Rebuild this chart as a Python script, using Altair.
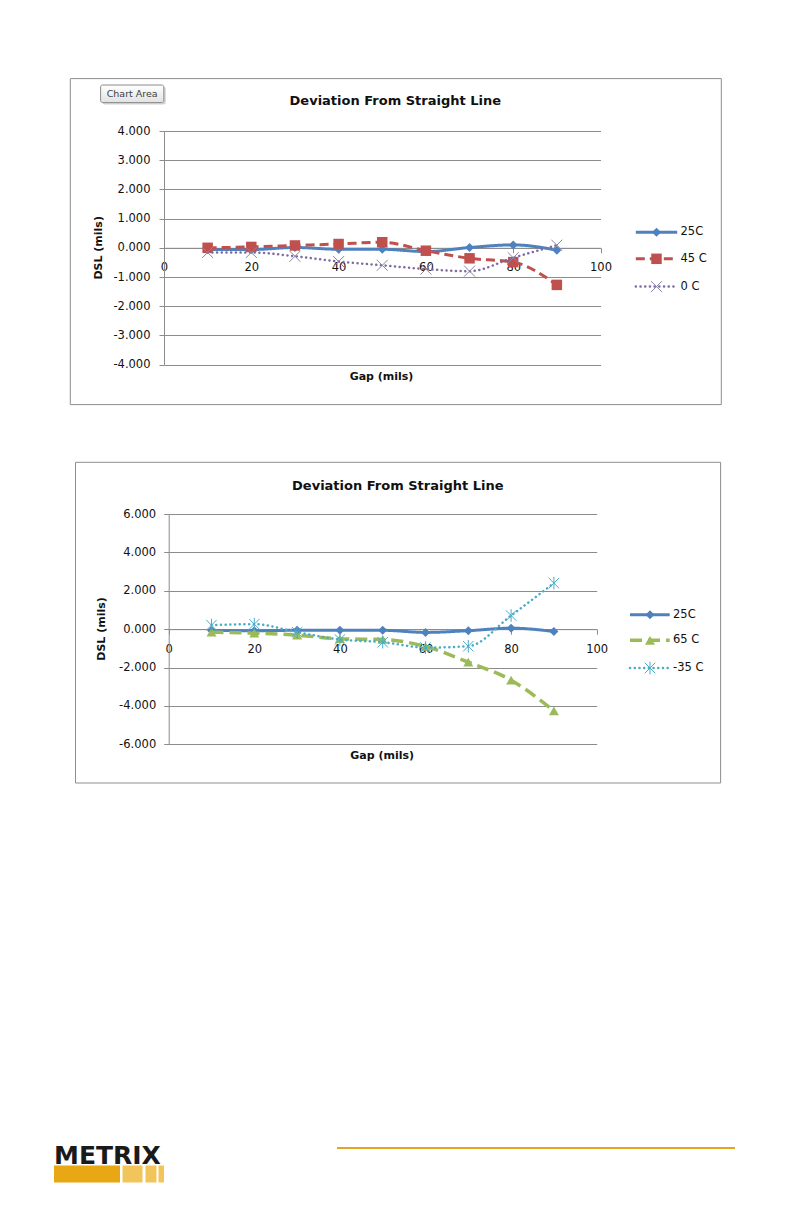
import altair as alt
import pandas as pd

# ---------------- data ----------------
gap = [10, 20, 30, 40, 50, 60, 70, 80, 90]

# top chart
top_25c = [-0.06, -0.06, 0.01, -0.05, -0.05, -0.13, 0.01, 0.10, -0.08]
top_45c = [0.00, 0.03, 0.08, 0.13, 0.19, -0.10, -0.36, -0.49, -1.27]
top_0c = [-0.16, -0.16, -0.29, -0.47, -0.60, -0.73, -0.80, -0.34, 0.09]

# bottom chart
bot_25c = [-0.07, -0.08, -0.06, -0.06, -0.06, -0.17, -0.08, 0.05, -0.12]
bot_65c = [-0.16, -0.21, -0.31, -0.50, -0.54, -0.90, -1.72, -2.66, -4.26]
bot_m35c = [0.21, 0.26, -0.16, -0.54, -0.68, -0.96, -0.89, 0.71, 2.40]

x_ticks = [0, 20, 40, 60, 80, 100]
top_y_ticks = [-4, -3, -2, -1, 0, 1, 2, 3, 4]
bot_y_ticks = [-6, -4, -2, 0, 2, 4, 6]

chart_title = "Deviation From Straight Line"
x_title = "Gap (mils)"
y_title = "DSL (mils)"

FONT = "DejaVu Sans"
GRID = "#8c8c8c"
TEXT = "#111111"

one = pd.DataFrame({"k": [0]})

X_SHAPE = "M-1,-1L1,1M-1,1L1,-1"
STAR_SHAPE = "M-1,-1L1,1M-1,1L1,-1M0,-1.2L0,1.2"

STYLES = {
    "25C": dict(color="#4F81BD", width=3, dash=[1, 0], cap="butt", shape="diamond", size=81,
                filled=True, mcolor="#4F81BD", mwidth=1),
    "45 C": dict(color="#C0504D", width=3, dash=[9, 5], cap="butt", shape="square", size=110,
                 filled=True, mcolor="#C0504D", mwidth=1),
    "0 C": dict(color="#7F6C9E", width=2.5, dash=[0.1, 4.6], cap="round", shape=X_SHAPE, size=120,
                filled=False, mcolor="#8A84A6", mwidth=1),
    "65 C": dict(color="#9BBB59", width=3.5, dash=[12, 6], cap="butt", shape="triangle-up", size=100,
                 filled=True, mcolor="#9BBB59", mwidth=1),
    "-35 C": dict(color="#4BACC6", width=2.5, dash=[0.1, 4.6], cap="round", shape=STAR_SHAPE, size=110,
                  filled=False, mcolor="#4BACC6", mwidth=1),
}


def y_label_expr():
    return "(datum.value < 0 ? '-' : '') + format(abs(datum.value), '.3f')"


def build_chart(series, ydom, yticks, W, H, geo, extra=None):
    X = alt.X("gap:Q",
              scale=alt.Scale(domain=[0, 100], nice=False, zero=False, range=list(geo["xrange"])),
              axis=alt.Axis(values=x_ticks, format="d", offset=-(H / 2), grid=False,
                            tickSize=5, tickColor=GRID, domainColor=GRID,
                            labelFlush=False, labelOverlap=False, labelPadding=9,
                            labelFont=FONT, labelFontSize=11.5, labelColor=TEXT, title=None))
    Y = alt.Y("dsl:Q",
              scale=alt.Scale(domain=ydom, nice=False, zero=False),
              axis=alt.Axis(values=yticks, labelExpr=y_label_expr(), grid=True, offset=geo["yoff"],
                            gridColor=GRID, gridWidth=1, tickSize=5, tickColor=GRID,
                            domainColor=GRID, labelPadding=geo["lpad"], labelFont=FONT,
                            labelFontSize=11.5, labelColor=TEXT, title=None))

    layers = []
    # chart area border
    b = geo["border"]
    layers.append(alt.Chart(one).mark_rect(fill="#ffffff", fillOpacity=0, stroke="#8e8e8e",
                                           strokeWidth=1).encode(
        x=alt.value(b[0]), x2=alt.value(b[1]), y=alt.value(b[2]), y2=alt.value(b[3])))
    # title
    layers.append(alt.Chart(one).mark_text(text=chart_title, font=FONT, fontSize=13, fontWeight="bold",
                                           align="center", baseline="middle", color=TEXT).encode(
        x=alt.value(geo["title"][0]), y=alt.value(geo["title"][1])))
    # axis titles
    layers.append(alt.Chart(one).mark_text(text=x_title, font=FONT, fontSize=11, fontWeight="bold",
                                           align="center", baseline="middle", color=TEXT).encode(
        x=alt.value(geo["xt"][0]), y=alt.value(geo["xt"][1])))
    layers.append(alt.Chart(one).mark_text(text=y_title, font=FONT, fontSize=11, fontWeight="bold",
                                           align="center", baseline="middle", angle=270,
                                           color=TEXT).encode(
        x=alt.value(geo["yt"][0]), y=alt.value(geo["yt"][1])))

    # data series
    for name, vals in series:
        st = STYLES[name]
        df = pd.DataFrame({"gap": gap, "dsl": vals, "series": name})
        base = alt.Chart(df)
        layers.append(base.mark_line(color=st["color"], strokeWidth=st["width"], strokeDash=st["dash"],
                                     strokeCap=st["cap"], interpolate="monotone").encode(x=X, y=Y))
        layers.append(base.mark_point(shape=st["shape"], size=st["size"], filled=st["filled"],
                                      color=st["mcolor"], strokeWidth=st["mwidth"],
                                      opacity=1).encode(x=X, y=Y))

    # legend
    lx1, lx2, lmx, ltx = geo["leg_x"]
    for (name, _), ly in zip(series, geo["leg_y"]):
        st = STYLES[name]
        layers.append(alt.Chart(one).mark_rule(color=st["color"], strokeWidth=st["width"],
                                               strokeDash=st["dash"], strokeCap=st["cap"]).encode(
            x=alt.value(lx1), x2=alt.value(lx2), y=alt.value(ly)))
        layers.append(alt.Chart(one).mark_point(shape=st["shape"], size=st["size"], filled=st["filled"],
                                                color=st["mcolor"], strokeWidth=st["mwidth"],
                                                opacity=1).encode(x=alt.value(lmx), y=alt.value(ly)))
        layers.append(alt.Chart(one).mark_text(text=name, font=FONT, fontSize=11.5, align="left",
                                               baseline="middle", color=TEXT).encode(
            x=alt.value(ltx), y=alt.value(ly)))

    if extra:
        layers.extend(extra)

    return alt.layer(*layers).properties(width=W, height=H)


# ---- top chart extras: "Chart Area" tooltip and a left anchor ----
top_extra = [
    alt.Chart(one).mark_rect(fill="#ffffff").encode(
        x=alt.value(-110), x2=alt.value(-109), y=alt.value(0), y2=alt.value(1)),
    alt.Chart(one).mark_rect(fill="#b8b8b8", opacity=0.6, cornerRadius=2).encode(
        x=alt.value(-61.4), x2=alt.value(1.8), y=alt.value(-44), y2=alt.value(-26.4)),
    alt.Chart(one).mark_rect(
        fill=alt.Gradient(gradient="linear",
                          stops=[alt.GradientStop(color="#ffffff", offset=0),
                                 alt.GradientStop(color="#e2e2e2", offset=1)],
                          x1=0, x2=0, y1=0, y2=1),
        stroke="#8a8a8a", strokeWidth=1, cornerRadius=2).encode(
        x=alt.value(-63.4), x2=alt.value(-0.2), y=alt.value(-46), y2=alt.value(-28.4)),
    alt.Chart(one).mark_text(text="Chart Area", font=FONT, fontSize=9.5, color="#404040",
                             align="center", baseline="middle").encode(
        x=alt.value(-31.8), y=alt.value(-37)),
]

# ---- bottom chart extras: page footer (logo + rule) ----
S = 4.7  # bottom plot is 4.7px to the right of the shared panel origin
logo_bars_x = [(-114.7, -48.7), (-46.2, -26.2), (-23.2, -12.2), (-10.2, -4.7)]
logo_bar_colors = ["#E9A713", "#F2C55A", "#F2C55A", "#F2C55A"]
bot_extra = [
    alt.Chart(one).mark_text(text="METRIX", font=FONT, fontSize=25, fontWeight="bold", color="#1a1a1a",
                             align="left", baseline="alphabetic").encode(
        x=alt.value(-114.7 + S), y=alt.value(649.5)),
    alt.Chart(one).mark_rule(color="#E6A520", strokeWidth=2).encode(
        x=alt.value(168.3 + S), x2=alt.value(566.3 + S), y=alt.value(634)),
]
for (bx1, bx2), bc in zip(logo_bars_x, logo_bar_colors):
    bot_extra.append(alt.Chart(one).mark_rect(fill=bc).encode(
        x=alt.value(bx1 + S), x2=alt.value(bx2 + S), y=alt.value(651.5), y2=alt.value(668.5)))

top_geo = dict(
    lpad=9, yoff=0, xrange=(0, 436.5),
    border=(-93.7, 557.3, -52.4, 273.6),
    title=(231.3, -30.5),
    xt=(217.5, 246.0),
    yt=(-65.5, 116.8),
    leg_x=(471.8, 513.2, 492.5, 516.5),
    leg_y=(101.3, 127.8, 155.6),
)
bot_geo = dict(
    lpad=8, yoff=-S, xrange=(S, 428 + S),
    border=(-93.2 + S, 551.9 + S, -51.7, 269.0),
    title=(229.1 + S, -28.0),
    xt=(213.5 + S, 242.0),
    yt=(-66.4 + S, 115.0),
    leg_x=(461.3 + S, 501.0 + S, 481.3 + S, 504.3 + S),
    leg_y=(100.7, 126.3, 154.0),
)

top = build_chart([("25C", top_25c), ("45 C", top_45c), ("0 C", top_0c)],
                  [-4, 4], top_y_ticks, 436.5, 233.6, top_geo, top_extra)
bottom = build_chart([("25C", bot_25c), ("65 C", bot_65c), ("-35 C", bot_m35c)],
                     [-6, 6], bot_y_ticks, 428 + S, 230.3, bot_geo, bot_extra)

chart = alt.vconcat(top, bottom, spacing=55).resolve_scale(
    x="independent", y="independent"
).properties(
    padding={"left": 46, "top": 70, "right": 5, "bottom": 5},
    background="#ffffff",
).configure_view(strokeWidth=0)

chart.save("out.html", embed_options={"renderer": "svg", "actions": False})
